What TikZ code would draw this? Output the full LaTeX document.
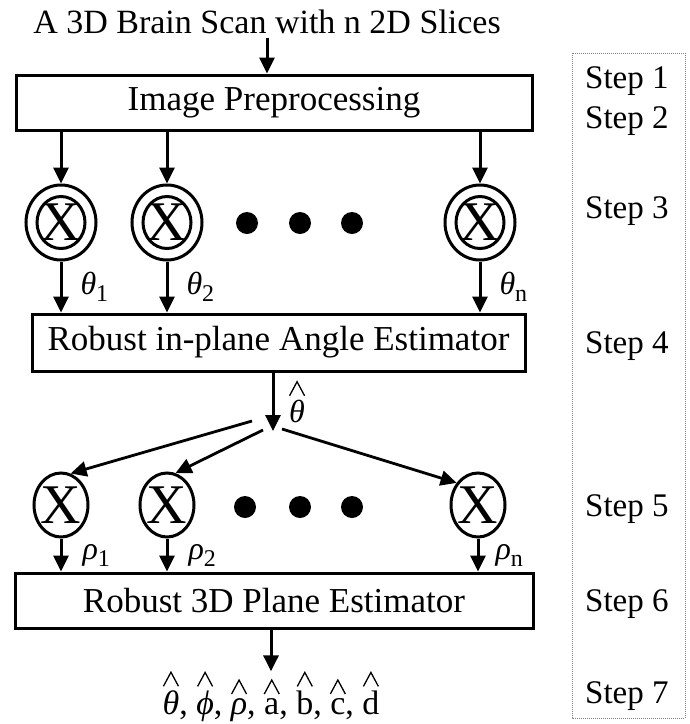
\documentclass[tikz,border=0pt]{standalone}
\usepackage{fontspec}
\setmainfont{Liberation Serif}
\usetikzlibrary{arrows.meta,shapes.geometric}

% a wedge-shaped hat, centred above its argument
\newcommand\hatmark{\tikz[baseline=0pt,x=1pt,y=1pt]\draw[-,line width=1.3pt,line join=miter] (0,0) -- (7.5,14) -- (15,0);}
\newcommand\hatted[1]{\setbox0=\hbox{#1}\leavevmode\hbox to \wd0{\hss\raisebox{\dimexpr\ht0+4pt\relax}{\hatmark}\hss}\hskip-\wd0\box0}
% italic symbol with an upright subscript
\newcommand\symsub[2]{{\itshape #1}\raisebox{-7pt}{\fontsize{24}{24}\selectfont #2}}

\begin{document}
\begin{tikzpicture}[x=1pt,y=-1pt,
  txt/.style={font=\fontsize{34}{40}\selectfont, inner sep=0pt},
  box/.style={draw, line width=3pt, inner sep=0pt, font=\fontsize{35}{40}\selectfont},
  arr/.style={-{Triangle[width=15pt,length=16pt]}, line width=3pt},
  fanline/.style={-{Triangle[width=15pt,length=16pt]}, line width=2.8pt},
  mult/.style={draw, ellipse, line width=3pt, inner sep=0pt,
    label={[font=\fontsize{56}{56}\selectfont, inner sep=0pt]center:X}},
  lbl/.style={font=\fontsize{32}{36}\selectfont, inner sep=0pt},
  steplbl/.style={font=\fontsize{33}{40}\selectfont, inner sep=0pt, anchor=base west},
  dotfill/.style={fill=black}]
\useasboundingbox (0,0) rectangle (690,724);

% input and preprocessing
\node[txt, anchor=base] (title) at (267,33) {A 3D Brain Scan with n 2D Slices};
\node[box, minimum width=516pt, minimum height=55pt] (b1) at (274,102.5) {Image Preprocessing};
\draw[arr] (title.south) ++(0,4) -- (b1.north -| title.south);

% per-slice angle blocks
\node[mult, minimum width=70pt, minimum height=75pt] (u1) at (61,222.5) {};
\node[mult, minimum width=70pt, minimum height=75pt] (u2) at (167,222.5) {};
\node[mult, minimum width=70pt, minimum height=75pt] (u3) at (480,222.5) {};
\foreach \n in {u1,u2,u3}
  \draw[line width=3pt] (\n.center) ellipse [x radius=24, y radius=26];
\fill[dotfill] (247,223) circle [radius=11];
\fill[dotfill] (300,223) circle [radius=11];
\fill[dotfill] (352,223) circle [radius=11];

\draw[arr] (b1.south -| u1.north) -- (u1.north);
\draw[arr] (b1.south -| u2.north) -- (u2.north);
\draw[arr] (b1.south -| u3.north) -- (u3.north);

% in-plane angle estimator
\node[box, minimum width=493pt, minimum height=57pt] (b2) at (278.5,342.5) {Robust in-plane Angle Estimator};
\draw[arr] (u1.south) -- (u1.south |- b2.north) node[lbl, midway, right=18pt] {\symsub{θ}{1}};
\draw[arr] (u2.south) -- (u2.south |- b2.north) node[lbl, midway, right=18pt] {\symsub{θ}{2}};
\draw[arr] (u3.south) -- (u3.south |- b2.north) node[lbl, midway, right=18pt] {\symsub{θ}{n}};

\coordinate (fan) at (273,431);
\draw[arr] (b2.south -| fan) -- (fan) node[lbl, midway, right=16pt] {\hatted{\itshape θ}};

% per-slice distance blocks
\node[mult, minimum width=54pt, minimum height=64pt] (l1) at (61,505) {};
\node[mult, minimum width=54pt, minimum height=64pt] (l2) at (167,505) {};
\node[mult, minimum width=54pt, minimum height=64pt] (l3) at (478,505) {};
\fill[dotfill] (245,507) circle [radius=11];
\fill[dotfill] (300,507) circle [radius=11];
\fill[dotfill] (352,507) circle [radius=11];

\coordinate (f1) at (252,421);
\coordinate (f2) at (263,430);
\coordinate (f3) at (282,429);
\draw[fanline] (f1) -- (l1.73);
\draw[fanline] (f2) -- (l2.75);
\draw[fanline] (f3) -- (l3.134);

% 3D plane estimator
\node[box, minimum width=518pt, minimum height=55pt] (b3) at (274,600.5) {Robust 3D Plane Estimator};
\draw[arr] (l1.south) -- (l1.south |- b3.north) node[lbl, midway, right=20pt] {\symsub{ρ}{1}};
\draw[arr] (l2.south) -- (l2.south |- b3.north) node[lbl, midway, right=20pt] {\symsub{ρ}{2}};
\draw[arr] (l3.south) -- (l3.south |- b3.north) node[lbl, midway, right=16pt] {\symsub{ρ}{n}};

\node[lbl, font=\fontsize{34}{40}\selectfont, anchor=base] (out) at (271,714)
  {\hatted{\itshape θ}, \hatted{\itshape ϕ}, \hatted{\itshape ρ}, \hatted{a}, \hatted{b}, \hatted{c}, \hatted{d}};
\draw[arr] (b3.south -| out.north) -- (out.north);

% step column
\draw[gray, densely dotted, line width=1pt] (572,53) rectangle (685,718);
\node[steplbl] (s1) at (585,88) {Step 1};
\node[steplbl] (s2) at (585,128) {Step 2};
\node[steplbl] (s3) at (585,218) {Step 3};
\node[steplbl] (s4) at (585,353) {Step 4};
\node[steplbl] (s5) at (585,516) {Step 5};
\node[steplbl] (s6) at (585,611) {Step 6};
\node[steplbl] (s7) at (585,703) {Step 7};
\end{tikzpicture}
\end{document}
